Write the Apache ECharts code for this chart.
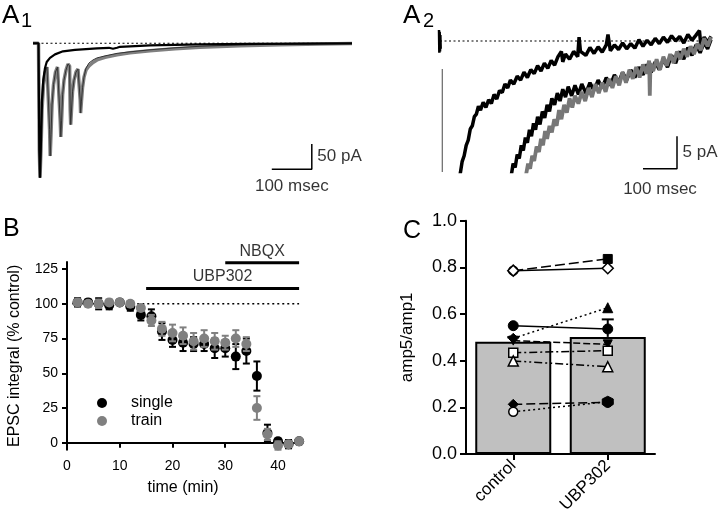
<!DOCTYPE html>
<html><head><meta charset="utf-8">
<script src="https://cdn.jsdelivr.net/npm/echarts@6/dist/echarts.min.js"></script>
<style>html,body{margin:0;padding:0;background:#fff}#c{width:720px;height:512px}</style>
</head><body><div id="c"></div>
<script>
// ---------- Panel A1 (time ms, current pA) ----------
const A1_TRAIN_GRAY = [[0,0],[13.75,0],[15.75,-211],[17.5,-266],[20,-211],[22.5,-132],[26.25,-82],[30,-59],[35,-47],
 [40,-49],[41.5,-171],[43,-223],[45,-181],[47.5,-122],[51.25,-82],[56.25,-57],[61.25,-47],
 [66.25,-49],[68,-152],[69.5,-185],[71.5,-152],[74,-102],[77.5,-73],[82.5,-53],[87.5,-41],
 [91.5,-45],[93,-132],[94.25,-161],[96.25,-132],[98.75,-96],[102.5,-73],[107.5,-57],[112.5,-51],
 [116.5,-53],[118,-112],[119,-138],[121,-116],[123.75,-88],[127.5,-67],[132.5,-53],[140,-45],[150,-38],[160,-33],
 [180,-28],[210,-23],[242.5,-19],[292.5,-15],[355,-11],[417.5,-8],[517.5,-5],[617.5,-3],[717.5,-1.4],[797.5,-0.4]];
const A1_TRAIN_BLACK = [[0,0],[13.75,0],[15.75,-211],[17.5,-266],[20,-211],[22.5,-132],[26.25,-82],[30,-59],[35,-47],
 [40,-49],[41.5,-171],[43,-223],[45,-181],[47.5,-122],[51.25,-82],[56.25,-57],[61.25,-47],
 [66.25,-49],[68,-152],[69.5,-185],[71.5,-152],[74,-102],[77.5,-73],[82.5,-53],[87.5,-41],
 [91.5,-45],[93,-132],[94.25,-161],[96.25,-132],[98.75,-96],[102.5,-73],[107.5,-57],[112.5,-51],
 [116.5,-53],[118,-112],[119,-138],[121,-116],[123.75,-88],[127.5,-67],[132.5,-49],[140,-39],[150,-33],[160,-29],
 [180,-25],[210,-20],[242.5,-17],[292.5,-13],[355,-9],[417.5,-6],[517.5,-3.4],[617.5,-2],[717.5,-1],[797.5,-0.4]];
const A1_SINGLE = [[0,0],[13.75,0],[15.75,-211],[17.5,-266],[20,-191],[22.5,-112],[25.75,-72],[30,-49],[34.25,-37],
 [42.5,-29],[55,-22],[75,-16],[105,-13],[160,-10],[190,-9],[200,-11],[210,-9],[217.5,-7],[292.5,-4.3],[417.5,-2.4],[542.5,-1.4],[667.5,-0.6],[797.5,-0.4]];
const A1_BASELINE = [[10,0],[785,0]];
const A1_SCALE = [[597,-249],[697,-249],[697,-199]];
const A1_SCALE_LABELS = [{value:[697,-224], text:'50 pA', pos:'right'}, {value:[647,-249], text:'100 msec', pos:'bottom'}];

// ---------- Panel A2 ----------
const A2_PRE = [[0,1.7],[1,-1.8],[2,1.4],[3,-1.6],[4,0.9],[5,-1.2]];
const A2_ARTIFACT = [[9.7,-4.3],[9.7,-21]];
const A2_SINGLE = [[62,-20.5],[68,-18.5],[74,-17.6],[80,-16.0],[86,-15.2],[92,-13.5],[98,-13.0],[104,-11.6],[110,-11.2],[116,-10.0],
 [122,-10.6],[130,-9.4],[138,-10.2],[146,-9.0],[154,-9.6],[162,-8.2],[170,-8.9],[178,-7.6],[186,-7.9],[194,-6.6],[202,-7.2],
 [210,-6.0],[220,-6.6],[230,-5.4],[240,-6.0],[250,-4.8],[260,-5.6],[270,-4.4],[280,-5.0],[290,-3.8],[300,-4.6],[310,-3.4],
 [320,-4.2],[330,-3.0],[340,-3.7],[350,-2.4],[360,-1.6],[364,-3.2],[372,-2.0],[384,-2.8],[396,-1.6],[408,-2.4],[412,0.6],[416,-1.6],
 [432,-2.2],[444,-1.0],[456,-1.9],[468,-0.9],[480,-1.7],[492,-0.6],[497,1.0],[504,-1.5],[516,-0.6],[528,-1.3],[540,-0.3],
 [552,-1.2],[564,-0.4],[576,-1.1],[588,0.2],[600,-0.8],[612,0.1],[624,-0.6],[636,0.4],[648,-0.4],[660,0.6],[672,-0.2],
 [684,0.8],[696,0.0],[708,0.7],[720,-0.3],[732,1.0],[744,0.1],[756,0.9],[766,1.6],[770,-0.6],[780,0.6],[790,-0.2],[800,0.7]];
const A2_TRAIN_BLACK = [[212,-20.8],[218,-18.8],[224,-19.4],[230,-17.4],[236,-18.0],[242,-16.0],[248,-16.8],[254,-14.8],[260,-15.6],
 [266,-13.6],[272,-14.6],[278,-12.6],[284,-13.6],[290,-11.6],[297,-12.8],[304,-10.8],[311,-11.8],[318,-9.8],[325,-10.8],[332,-8.8],
 [340,-9.8],[348,-8.0],[356,-9.2],[364,-7.4],[372,-8.6],[380,-7.0],[390,-8.4],[400,-6.8],[410,-8.2],[420,-6.6],[432,-8.0],[444,-6.4],
 [456,-7.6],[468,-6.0],[480,-7.2],[492,-5.6],[504,-6.8],[516,-5.2],[528,-6.4],[540,-4.8],[552,-6.0],[564,-4.4],[576,-5.6],[588,-4.0],
 [600,-5.2],[612,-3.6],[624,-4.8],[636,-3.2],[648,-4.4],[660,-2.8],[672,-4.0],[684,-2.2],[696,-3.4],[708,-1.6],[720,-2.8],[732,-1.0],
 [744,-2.2],[756,-0.6],[768,-1.8],[780,-0.2],[790,-1.2],[800,0.2]];
const A2_TRAIN_GRAY = [[255,-20.8],[262,-18.8],[268,-19.6],[274,-17.6],[280,-18.4],[287,-16.2],[294,-17.0],[300,-15.0],[306,-16.0],
 [312,-13.8],[318,-15.0],[325,-13.0],[332,-14.0],[339,-12.0],[346,-13.0],[353,-10.6],[360,-12.0],[368,-9.8],[376,-11.0],[384,-8.8],
 [392,-10.2],[400,-8.4],[410,-9.6],[420,-7.8],[430,-9.2],[440,-7.2],[450,-8.6],[460,-6.6],[470,-8.0],[480,-6.4],[490,-7.8],[500,-5.8],
 [510,-7.2],[520,-5.4],[530,-6.8],[540,-4.8],[550,-6.4],[560,-4.4],[570,-5.8],[580,-4.0],[590,-5.6],[600,-3.6],[610,-5.0],[618,-3.0],
 [620,-8.4],[622,-3.4],[630,-4.6],[640,-2.8],[650,-4.4],[660,-2.4],[670,-3.8],[680,-2.0],[690,-3.4],[700,-1.6],[710,-2.8],[720,-1.2],
 [730,-2.4],[740,-0.8],[750,-2.0],[760,-0.4],[770,-1.4],[780,0.4],[790,-0.8],[800,0.6]];
const A2_BASELINE = [[3,0],[788,0]];
const A2_SCALE = [[600,-19.6],[700,-19.6],[700,-14.6]];
const A2_SCALE_LABELS = [{value:[700,-17.1], text:'5 pA', pos:'right'}, {value:[650,-19.6], text:'100 msec', pos:'bottom'}];

// ---------- Panel B ----------
const B_TIME = [2,4,6,8,10,12,14,16,18,20,22,24,26,28,30,32,34,36,38,40,42,44];
const B_SINGLE = [101,101,100,99,101,98,92,91,80,74,72,71,71,68,68,62,66,48,7,1,-1,1];
const B_SINGLE_ERR = [3,2,4,3,1,3,4,5,6,5,6,5,5,7,6,9,9,10.5,6,2,3,1];
const B_TRAIN = [101,100,100,101,101,100,97,88,82,79,77,73,75,73,72,75,71,25,6,-2,-1,1];
const B_TRAIN_ERR = [2,2,3,2,1,2,2,4,5,6,6,6,6,6,5,6,5,8.5,4,3,2,1];
const B_Y_TICKS = [0,25,50,75,100,125];
const B_X_TICKS = [0,10,20,30,40];
const B_CONTROL_LINE = [[1,100],[44,100]];
const B_UBP_BAR = [[15,111],[44,111]];
const B_NBQX_BAR = [[30,129.5],[44,129.5]];

// ---------- Panel C ----------
const C_CATS = ['control','UBP302'];
const C_MEAN = [0.481, 0.502];
const C_SEM = [0.02, 0.075];
const C_PAIRS = [[0.786,0.836],[0.786,0.796],[0.496,0.627],[0.55,0.536],[0.486,0.47],[0.434,0.443],[0.399,0.374],[0.213,0.221],[0.181,0.224]];

const BLACK = '#000', GRAY = '#808080';
const FONT = '"Liberation Sans", Arial, Helvetica, sans-serif';
const TRI_DOWN = 'path://M0,0 L10,0 L5,9 Z';
const HEX = 'path://M5,0 L10,2.9 L10,8.7 L5,11.6 L0,8.7 L0,2.9 Z';
const open = {color:'#fff', borderColor:'#000', borderWidth:1.5, opacity:1};
const fill = {color:'#000', borderColor:'#000', borderWidth:1, opacity:1};
const C_STYLE = [
  {dash:[10,4], m:[['circle',open,9],['rect',fill,9]]},
  {dash:'solid', m:[['diamond',open,11],['diamond',open,11]]},
  {dash:[2,3], m:[['diamond',fill,10],['triangle',fill,10]]},
  {dash:'solid', m:[['circle',fill,10],['circle',fill,10]]},
  {dash:[7,3], m:[[TRI_DOWN,fill,9],[TRI_DOWN,fill,9]]},
  {dash:[8,3,2,3], m:[['rect',open,9],['rect',open,9]]},
  {dash:[8,3,2,3,2,3], m:[['triangle',open,10],['triangle',open,10]]},
  {dash:[9,4], m:[['diamond',fill,10],['circle',fill,10]]},
  {dash:[2,3], m:[['circle',open,9],[HEX,fill,11]]}
];

function errBar(color, cap, upOnly){
  return function(params, api){
    const x = api.value(0), y = api.value(1), e = api.value(2);
    const top = api.coord([x, y + e]);
    const bot = api.coord([x, upOnly ? y : y - e]);
    const st = {stroke: color, lineWidth: 2};
    const ch = [
      {type:'line', shape:{x1:top[0], y1:top[1], x2:bot[0], y2:bot[1]}, style:st},
      {type:'line', shape:{x1:top[0]-cap, y1:top[1], x2:top[0]+cap, y2:top[1]}, style:st}
    ];
    if (!upOnly) ch.push({type:'line', shape:{x1:bot[0]-cap, y1:bot[1], x2:bot[0]+cap, y2:bot[1]}, style:st});
    return {type:'group', children: ch};
  };
}

const axisLineStyle = {lineStyle:{color:BLACK, width:2}};
const series = [];
// A1
series.push({type:'line', xAxisIndex:0, yAxisIndex:0, data:A1_BASELINE, symbol:'none', lineStyle:{color:BLACK, width:1.2, type:[2,2.5]}, silent:true});
series.push({type:'line', xAxisIndex:0, yAxisIndex:0, data:A1_TRAIN_GRAY, symbol:'none', lineStyle:{color:GRAY, width:3.5}});
series.push({type:'line', xAxisIndex:0, yAxisIndex:0, data:A1_TRAIN_BLACK, symbol:'none', lineStyle:{color:'#333', width:1}});
series.push({type:'line', xAxisIndex:0, yAxisIndex:0, data:A1_SINGLE, symbol:'none', lineStyle:{color:BLACK, width:2.2}});
series.push({type:'line', xAxisIndex:0, yAxisIndex:0, data:A1_SCALE, symbol:'none', lineStyle:{color:BLACK, width:1.5}});
series.push({type:'scatter', xAxisIndex:0, yAxisIndex:0, clip:false, symbolSize:1, itemStyle:{color:'transparent'},
  data:A1_SCALE_LABELS.map(d=>({value:d.value, label:{show:true, position:d.pos, distance:d.pos==='right'?5:8, formatter:d.text, color:BLACK, fontSize:17, fontFamily:FONT}}))});
// A2
series.push({type:'line', xAxisIndex:1, yAxisIndex:1, data:A2_BASELINE, symbol:'none', lineStyle:{color:BLACK, width:1.2, type:[2,2.5]}});
series.push({type:'line', xAxisIndex:1, yAxisIndex:1, data:A2_PRE, symbol:'none', lineStyle:{color:BLACK, width:2.5}});
series.push({type:'line', xAxisIndex:1, yAxisIndex:1, data:A2_ARTIFACT, symbol:'none', lineStyle:{color:'#666', width:1.2}});
series.push({type:'line', xAxisIndex:1, yAxisIndex:1, data:A2_SINGLE, symbol:'none', lineStyle:{color:BLACK, width:3.5}});
series.push({type:'line', xAxisIndex:1, yAxisIndex:1, data:A2_TRAIN_BLACK, symbol:'none', lineStyle:{color:BLACK, width:3.5}});
series.push({type:'line', xAxisIndex:1, yAxisIndex:1, data:A2_TRAIN_GRAY, symbol:'none', lineStyle:{color:'#777', width:3.8}});
series.push({type:'line', xAxisIndex:1, yAxisIndex:1, data:A2_SCALE, symbol:'none', lineStyle:{color:BLACK, width:1.5}});
series.push({type:'scatter', xAxisIndex:1, yAxisIndex:1, clip:false, symbolSize:1, itemStyle:{color:'transparent'},
  data:A2_SCALE_LABELS.map(d=>({value:d.value, label:{show:true, position:d.pos, distance:d.pos==='right'?5:11, formatter:d.text, color:BLACK, fontSize:17, fontFamily:FONT}}))});
// B
series.push({type:'line', xAxisIndex:2, yAxisIndex:2, data:B_CONTROL_LINE, symbol:'none', lineStyle:{color:BLACK, width:1.5, type:[2,3]}});
series.push({type:'line', xAxisIndex:2, yAxisIndex:2, data:B_UBP_BAR, symbol:'none', lineStyle:{color:BLACK, width:3}, clip:false});
series.push({type:'line', xAxisIndex:2, yAxisIndex:2, data:B_NBQX_BAR, symbol:'none', lineStyle:{color:BLACK, width:3}, clip:false});
series.push({type:'scatter', xAxisIndex:2, yAxisIndex:2, clip:false, symbolSize:1, itemStyle:{color:'transparent'},
  data:[
    {value:[(B_UBP_BAR[0][0]+B_UBP_BAR[1][0])/2, B_UBP_BAR[0][1]], label:{show:true, position:'top', distance:3, formatter:'UBP302', color:BLACK, fontSize:16, fontFamily:FONT}},
    {value:[(B_NBQX_BAR[0][0]+B_NBQX_BAR[1][0])/2, B_NBQX_BAR[0][1]], label:{show:true, position:'top', distance:3, formatter:'NBQX', color:BLACK, fontSize:16, fontFamily:FONT}}
  ]});
series.push({type:'custom', xAxisIndex:2, yAxisIndex:2, renderItem:errBar(BLACK,3.5,false), data:B_TIME.map((t,i)=>[t,B_SINGLE[i],B_SINGLE_ERR[i]]), z:3});
series.push({name:'single', type:'scatter', xAxisIndex:2, yAxisIndex:2, symbol:'circle', symbolSize:10, itemStyle:{color:BLACK, opacity:1}, data:B_TIME.map((t,i)=>[t,B_SINGLE[i]]), z:4});
series.push({type:'custom', xAxisIndex:2, yAxisIndex:2, renderItem:errBar(GRAY,3.5,false), data:B_TIME.map((t,i)=>[t,B_TRAIN[i],B_TRAIN_ERR[i]]), z:5});
series.push({name:'train', type:'scatter', xAxisIndex:2, yAxisIndex:2, symbol:'circle', symbolSize:10, itemStyle:{color:GRAY, opacity:1}, data:B_TIME.map((t,i)=>[t,B_TRAIN[i]]), z:6});
// C
series.push({type:'bar', xAxisIndex:3, yAxisIndex:3, data:C_MEAN, barWidth:76, itemStyle:{color:'#c0c0c0', borderColor:BLACK, borderWidth:2}, z:2});
series.push({type:'custom', xAxisIndex:3, yAxisIndex:3, renderItem:errBar(BLACK,6,true), data:C_MEAN.map((m,i)=>[i,m,C_SEM[i]]), z:3});
C_PAIRS.forEach((p,k)=>{
  const s = C_STYLE[k];
  series.push({type:'line', xAxisIndex:3, yAxisIndex:3, z:4+k,
    lineStyle:{color:BLACK, width:1.5, type:s.dash},
    data:p.map((v,i)=>({value:v, symbol:s.m[i][0], symbolSize:s.m[i][2], itemStyle:s.m[i][1]})),
    showAllSymbol:true});
});

const option = {
  animation:false,
  textStyle:{fontFamily:FONT, color:BLACK},
  grid:[
    {left:33, top:23, width:320, height:172, containLabel:false, outerBoundsMode:'none'},
    {left:439, top:21.44, width:272, height:150, containLabel:false, outerBoundsMode:'none'},
    {left:67, top:262.1, width:232.1, height:187.6, containLabel:false, outerBoundsMode:'none'},
    {left:466, top:220.7, width:189, height:233.3, containLabel:false, outerBoundsMode:'none'}
  ],
  xAxis:[
    {gridIndex:0, type:'value', min:0, max:800, show:false},
    {gridIndex:1, type:'value', min:0, max:800, show:false},
    {gridIndex:2, type:'value', min:0, max:44, splitLine:{show:false}, axisLine:axisLineStyle,
      axisTick:{show:true, inside:false, length:5, lineStyle:{width:2, color:BLACK}, customValues:B_X_TICKS},
      axisLabel:{customValues:B_X_TICKS, fontSize:14, color:BLACK, margin:9, fontFamily:FONT},
      name:'time (min)', nameLocation:'middle', nameGap:30, nameTextStyle:{fontSize:16, color:BLACK, fontFamily:FONT}},
    {gridIndex:3, type:'category', data:C_CATS, axisLine:axisLineStyle,
      axisTick:{show:true, alignWithLabel:true, length:6, lineStyle:{width:2, color:BLACK}},
      axisLabel:{rotate:45, fontSize:17, color:BLACK, margin:9, fontFamily:FONT}}
  ],
  yAxis:[
    {gridIndex:0, type:'value', min:-300, max:40, show:false},
    {gridIndex:1, type:'value', min:-20, max:3, show:false},
    {gridIndex:2, type:'value', min:-5, max:130, splitLine:{show:false}, axisLine:{show:true, lineStyle:{color:BLACK, width:2}},
      axisTick:{show:true, length:5, lineStyle:{width:2, color:BLACK}, customValues:B_Y_TICKS},
      axisLabel:{customValues:B_Y_TICKS, fontSize:14, color:BLACK, margin:9, fontFamily:FONT},
      name:'EPSC integral (% control)', nameLocation:'middle', nameGap:44, nameRotate:90, nameTextStyle:{fontSize:16, color:BLACK, fontFamily:FONT}},
    {gridIndex:3, type:'value', min:0, max:1, interval:0.2, splitLine:{show:false}, axisLine:{show:true, lineStyle:{color:BLACK, width:2}},
      axisTick:{show:true, length:6, lineStyle:{width:2, color:BLACK}},
      axisLabel:{fontSize:18, color:BLACK, margin:9, fontFamily:FONT, formatter:v=>v.toFixed(1)},
      name:'amp5/amp1', nameLocation:'middle', nameGap:50, nameRotate:90, nameTextStyle:{fontSize:17, color:BLACK, fontFamily:FONT}}
  ],
  legend:{show:true, data:[{name:'single', icon:'circle'},{name:'train', icon:'circle'}], orient:'vertical',
    left:97, top:395, padding:0, itemGap:2, itemWidth:10, itemHeight:10,
    itemStyle:{opacity:1},
    textStyle:{fontSize:16, color:BLACK, fontFamily:FONT, padding:[0,0,0,19]}},
  graphic:[
    {type:'text', left:2, top:3, style:{text:'A', fontSize:26, fill:BLACK, fontFamily:FONT}},
    {type:'text', left:21, top:11, style:{text:'1', fontSize:20, fill:BLACK, fontFamily:FONT}},
    {type:'text', left:403, top:3, style:{text:'A', fontSize:26, fill:BLACK, fontFamily:FONT}},
    {type:'text', left:423, top:11, style:{text:'2', fontSize:20, fill:BLACK, fontFamily:FONT}},
    {type:'text', left:3, top:217, style:{text:'B', fontSize:25, fill:BLACK, fontFamily:FONT}},
    {type:'text', left:403, top:219, style:{text:'C', fontSize:25, fill:BLACK, fontFamily:FONT}}
  ],
  series:series
};
const chart = echarts.init(document.getElementById('c'), null, {renderer:'canvas'});
chart.setOption(option);
</script></body></html>
